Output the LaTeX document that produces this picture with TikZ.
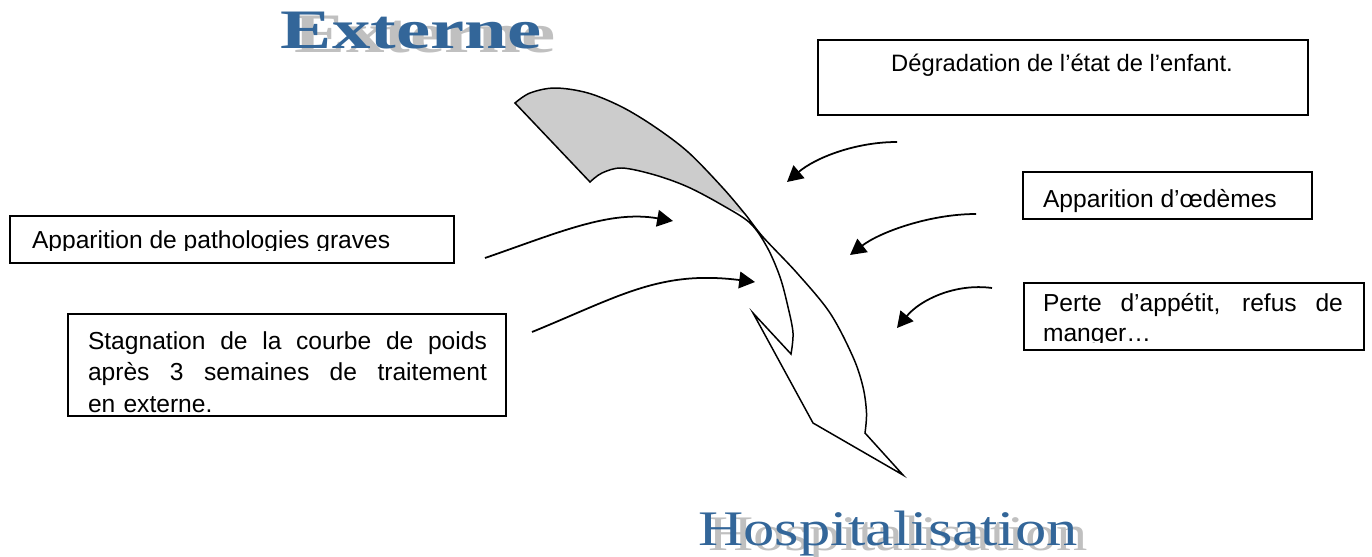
\documentclass[tikz,border=0pt]{standalone}
\usepackage{fontspec}
\setmainfont{Liberation Sans}
\newfontfamily\titrefont{Liberation Serif}
\usepackage{tikz}
\usetikzlibrary{
  arrows.meta,
  calc
}
\definecolor{titreblue}{RGB}{51,102,153}
\definecolor{ombre}{RGB}{192,192,192}
\definecolor{ruban}{RGB}{204,204,204}
\tikzset{
  cadre/.style={draw=black,line width=0.9pt,inner sep=0pt,outer sep=0pt},
  texte/.style={inner sep=0pt,outer sep=0pt,font=\fontsize{14}{17}\selectfont},
  titre/.style={inner sep=0pt,anchor=base},
  fleche/.style={line width=1pt,-{Triangle[length=9pt,width=9.5pt]}},
  contour/.style={line width=0.85pt,line join=miter}
}
\newcommand{\cadre}[5]{%
  \pgfmathsetmacro{\cw}{(#4-#2)*0.02}%
  \pgfmathsetmacro{\ch}{(#5-#3)*0.02}%
  \node[cadre,minimum width=\cw cm,minimum height=\ch cm,anchor=north west] (#1) at (#2,#3) {};%
}
\newcommand{\titre}[6]{%
  \node[titre,text=ombre] (#1-ombre) at (#2+#4,#3+#5) {#6};%
  \node[titre,text=titreblue] (#1) at (#2,#3) {#6};%
}
\newcommand{\ligne}[2]{\leavevmode\hbox to #1{\spaceskip=0.278em plus 1fil\relax #2}}

\begin{document}
\begin{tikzpicture}[x=0.02cm,y=-0.02cm]
  \useasboundingbox (0,0) rectangle (1372,557);

  \titre{externe}{411}{49}{14}{4}{\titrefont\bfseries\fontsize{31.7}{34}\selectfont\scalebox{1.38}[1]{Externe}}
  \titre{hospi}{888}{545}{10}{5}{\titrefont\fontsize{28.3}{30}\selectfont\scalebox{1.26}[1]{Hospitalisation}}

  \cadre{degr}{818}{40}{1308}{115}
  \node[texte,anchor=base,font=\fontsize{13.5}{17}\selectfont] (degr-t) at (1062,72) {Dégradation de l’état de l’enfant.};

  \cadre{oed}{1023}{172}{1312}{219}
  \node[texte,anchor=base west] (oed-t) at (1043,208) {Apparition d’œdèmes};

  \cadre{perte}{1024}{283}{1364}{350}
  \begin{scope}
    \clip (perte.north west) rectangle ([yshift=4.5pt]perte.south east);
    \node[texte,anchor=base west,text width=6cm,align=left] (perte-t) at (1043,311.5)
      {\ligne{6cm}{Perte d’appétit, refus de}\\manger…};
  \end{scope}

  \cadre{patho}{10}{216}{454}{263}
  \begin{scope}
    \clip (patho.north west) rectangle ([yshift=7.2pt]patho.south east);
    \node[texte,anchor=base west] (patho-t) at (32,249) {Apparition de pathologies graves};
  \end{scope}

  \cadre{stag}{68}{314}{506}{416}
  \begin{scope}
    \clip (stag.north west) rectangle ([yshift=1.7pt]stag.south east);
    \node[texte,anchor=base west,text width=7.98cm,align=left,font=\fontsize{14}{18}\selectfont] (stag-t) at (88,349)
      {\ligne{7.98cm}{Stagnation de la courbe de poids}\\
       \ligne{7.98cm}{après 3 semaines de traitement}\\en externe.};
  \end{scope}

  \fill[ruban] plot[smooth,tension=0.55] coordinates {(515,103) (530,93) (555,88) (588,93) (622,107) (655,127) (688,152) (722,187) (745,214)}
    -- plot[smooth,tension=0.55] coordinates {(745,214) (722,205) (688,187) (655,175) (622,168) (602,173) (590,182)} -- cycle;
  \draw[contour] plot[smooth,tension=0.55] coordinates {(515,103) (530,93) (555,88) (588,93) (622,107) (655,127) (688,152) (722,187) (745,214) (763,237) (797,273) (830,313) (853,357) (863,387) (866.5,413) (865,433)}
    -- (903,475) -- (813,423) -- (753,313) -- (791,354)
    -- plot[smooth,tension=0.55] coordinates {(791,354) (793,333) (788,307) (780,277) (767,247) (750,223) (722,205) (688,187) (655,175) (622,168) (602,173) (590,182)} -- cycle;

  \coordinate (f1a) at (897,142);
  \coordinate (f1b) at (787,182);
  \coordinate (f2a) at (976,214);
  \coordinate (f2b) at (850,255);
  \coordinate (f3a) at (992,288);
  \coordinate (f3b) at (897,328);
  \coordinate (f4a) at (485,258);
  \coordinate (f4b) at (673,221);
  \coordinate (f5a) at (532,332);
  \coordinate (f5b) at (755,282);
  \draw[fleche] (f1a) .. controls (855,142) and (815,158) .. (f1b);
  \draw[fleche] (f2a) .. controls (930,214) and (880,232) .. (f2b);
  \draw[fleche] (f3a) .. controls (955,283) and (920,300) .. (f3b);
  \draw[fleche] (f4a) .. controls (560,232) and (610,210) .. (f4b);
  \draw[fleche] (f5a) .. controls (620,296) and (660,270) .. (f5b);
\end{tikzpicture}
\end{document}
